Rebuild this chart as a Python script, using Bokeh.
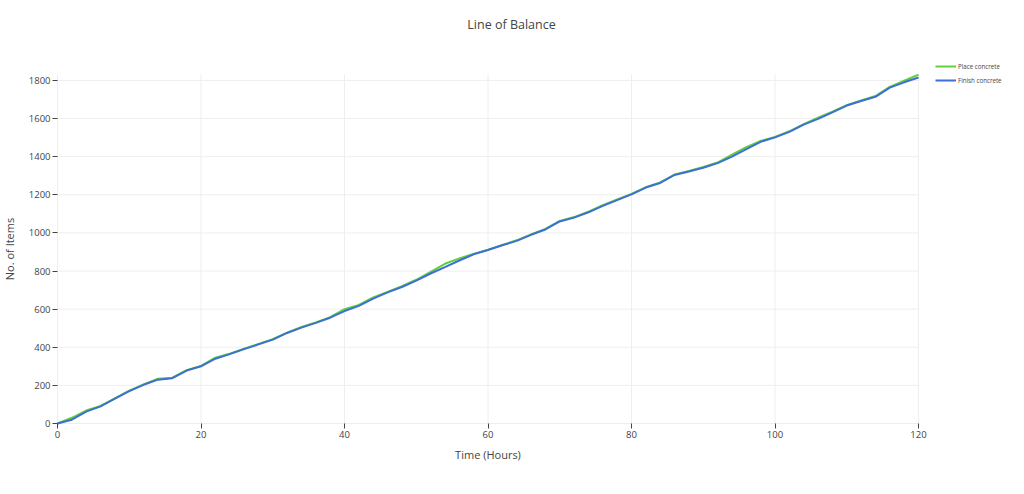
from bokeh.plotting import figure
from bokeh.models import Range1d, Legend, LegendItem, FixedTicker, Label
from bokeh.embed import file_html
from bokeh.resources import INLINE

# horas (cada 2 h)
hours = list(range(0, 121, 2))

# valores
place_concrete = [0, 30, 68, 92, 132, 172, 205, 235, 240, 280,
                  302, 345, 366, 392, 417, 442, 477, 507, 530, 558,
                  600, 622, 662, 690, 720, 754, 795, 838, 866, 890,
                  912, 937, 961, 992, 1021, 1063, 1083, 1111, 1146, 1176,
                  1205, 1240, 1265, 1306, 1325, 1346, 1369, 1410, 1450, 1482,
                  1503, 1533, 1571, 1605, 1636, 1670, 1695, 1718, 1766, 1798,
                  1830]
finish_concrete = [0, 20, 62, 90, 130, 170, 203, 230, 238, 278,
                   300, 340, 364, 390, 415, 440, 475, 503, 528, 555,
                   590, 617, 655, 688, 716, 750, 787, 820, 855, 888,
                   910, 935, 958, 990, 1018, 1060, 1080, 1108, 1142, 1172,
                   1202, 1238, 1262, 1304, 1322, 1342, 1366, 1400, 1440, 1478,
                   1501, 1530, 1568, 1598, 1632, 1668, 1692, 1714, 1762, 1790,
                   1815]

x_ticks = [0, 20, 40, 60, 80, 100, 120]
y_ticks = [0, 200, 400, 600, 800, 1000, 1200, 1400, 1600, 1800]
x_max = 120
y_max = 1831

fuente = "Open Sans"
gris = "#444444"

# lienzo y zona de datos en pixeles
W, H = 1008, 478
izq, der, arriba, abajo = 57, 918, 74, 423
kx = (der - izq) / x_max
ky = (abajo - arriba) / y_max

def px_x(px):
    return (px - izq) / kx

def px_y(py):
    return (abajo - py) / ky

# el marco ocupa todo el lienzo, los ejes van fijos en 0
p = figure(width=W, height=H, output_backend="svg", toolbar_location=None,
           x_range=Range1d(px_x(0), px_x(W)), y_range=Range1d(px_y(H), px_y(0)),
           min_border=0, x_axis_label="Time (Hours)", y_axis_label="No. of Items")
p.outline_line_color = None
p.background_fill_color = "white"
p.xgrid.visible = False
p.ygrid.visible = False

# rejilla limitada al area de datos
p.segment(x0=x_ticks, y0=[0] * len(x_ticks), x1=x_ticks, y1=[y_max] * len(x_ticks),
          color="#eeeeee", line_width=1)
p.segment(x0=[0] * len(y_ticks), y0=y_ticks, x1=[x_max] * len(y_ticks), y1=y_ticks,
          color="#eeeeee", line_width=1)

verde = p.line(hours, place_concrete, color="#62cf3c", line_width=2)
azul = p.line(hours, finish_concrete, color="#3d6fd6", line_width=2)

for ax, ticks in ((p.xaxis, x_ticks), (p.yaxis, y_ticks)):
    ax.ticker = FixedTicker(ticks=ticks)
    ax.fixed_location = 0
    ax.axis_line_color = None
    ax.major_tick_line_color = gris
    ax.major_tick_out = 5
    ax.major_tick_in = 0
    ax.minor_tick_line_color = None
    ax.major_label_text_font = fuente
    ax.major_label_text_font_size = "9.5px"
    ax.major_label_text_color = gris
    ax.major_label_standoff = 2
    ax.axis_label_text_font = fuente
    ax.axis_label_text_font_size = "11px"
    ax.axis_label_text_font_style = "normal"
    ax.axis_label_text_color = gris

p.xaxis.bounds = (0, x_max)
p.yaxis.bounds = (0, y_max)
p.xaxis.axis_label_standoff = 6
p.yaxis.axis_label_standoff = 9

p.add_layout(Label(x=px_x(511), y=px_y(24), text="Line of Balance",
                   text_font=fuente, text_font_size="12.5px",
                   text_color=gris, text_align="center", text_baseline="middle"))

leyenda = Legend(items=[LegendItem(label="Place concrete", renderers=[verde]),
                        LegendItem(label="Finish concrete", renderers=[azul])],
                 location=(935, H - 61 - 24), orientation="vertical",
                 label_text_font=fuente, label_text_font_size="6.2px",
                 label_text_color=gris, glyph_width=21, glyph_height=10,
                 label_height=10, spacing=4, label_standoff=2,
                 padding=0, margin=0, border_line_color=None,
                 background_fill_alpha=0)
p.add_layout(leyenda)

open("out.html", "w").write(file_html(p, INLINE))
